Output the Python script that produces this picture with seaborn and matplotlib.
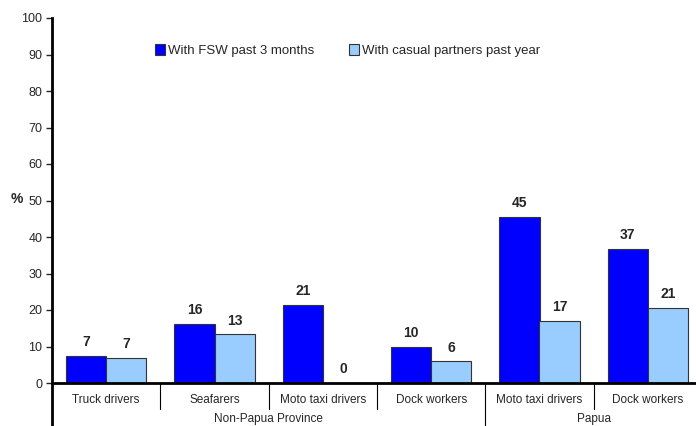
import matplotlib
matplotlib.use("Agg")
import matplotlib.pyplot as plt
import matplotlib.transforms as mtransforms
import pandas as pd
import seaborn as sns

# Dados
categories = ["Truck drivers", "Seafarers", "Moto taxi drivers", "Dock workers",
              "Moto taxi drivers ", "Dock workers "]
tick_labels = ["Truck drivers", "Seafarers", "Moto taxi drivers", "Dock workers",
               "Moto taxi drivers", "Dock workers"]
provinces = ["Non-Papua Province", "Papua"]
province_sizes = [4, 2]
series_names = ["With FSW past 3 months", "With casual partners past year"]
fsw_values = [7.3, 16.3, 21.4, 9.9, 45.4, 36.6]
casual_values = [6.8, 13.3, 0, 5.9, 17.0, 20.6]

COLORS = ["#0000FF", "#99CCFF"]

df = pd.DataFrame({
    "category": categories * 2,
    "series": [series_names[0]] * 6 + [series_names[1]] * 6,
    "value": fsw_values + casual_values,
})

sns.set_style("white")
plt.rcParams["font.family"] = ["Liberation Sans", "DejaVu Sans"]

fig = plt.figure(figsize=(6.96, 4.26), dpi=100)
ax = fig.add_axes([52 / 696, 43 / 426, 650 / 696, 365 / 426])

sns.barplot(data=df, x="category", y="value", hue="series", palette=COLORS,
            width=0.74, edgecolor="#333333", linewidth=0.8, saturation=1,
            ax=ax)

for cont in ax.containers:
    ax.bar_label(cont, labels=[f"{v:.0f}" for v in cont.datavalues],
                 padding=5, fontsize=10, fontweight="bold")

ax.set_xlim(-0.5, len(categories) - 0.5)
ax.set_ylim(0, 100)
ax.set_yticks(range(0, 101, 10))
ax.tick_params(axis="y", labelsize=9, length=4, width=1, direction="out",
               left=True, pad=3)
ax.set_xticks(range(len(categories)))
ax.set_xticklabels(tick_labels, fontsize=8.5)
ax.tick_params(axis="x", length=0, pad=8)
ax.set_xlabel("")
ax.set_ylabel("")
fig.text(17 / 696, 1 - 199 / 426, "%", fontsize=10, fontweight="bold",
         ha="center", va="center")

for side in ["top", "right"]:
    ax.spines[side].set_visible(False)
ax.spines["left"].set_linewidth(2)
ax.spines["bottom"].set_linewidth(2)
ax.spines["left"].set_color("black")
ax.spines["bottom"].set_color("black")

# Separadores das categorias e províncias abaixo do eixo
trans = mtransforms.blended_transform_factory(ax.transData, ax.transAxes)
boundaries = []
pos = 0
for size in province_sizes:
    pos += size
    boundaries.append(pos)
for i in range(1, len(categories)):
    bottom = -0.12 if i in boundaries else -0.07
    ax.plot([i - 0.5, i - 0.5], [0, bottom], color="black", lw=0.8,
            transform=trans, clip_on=False)
ax.plot([-0.5, -0.5], [0, -0.12], color="black", lw=2,
        transform=trans, clip_on=False)

start = 0
for name, size in zip(provinces, province_sizes):
    center = start + size / 2 - 0.5
    ax.text(center, -0.098, name, transform=trans, ha="center", va="center",
            fontsize=8.5)
    start += size

ax.legend(loc="upper left", bbox_to_anchor=(0.14, 0.96), ncol=2, frameon=False,
          fontsize=9.5, handlelength=0.8, handleheight=0.8, handletextpad=0.2,
          columnspacing=2.6)

fig.savefig("out.png", dpi=100)
